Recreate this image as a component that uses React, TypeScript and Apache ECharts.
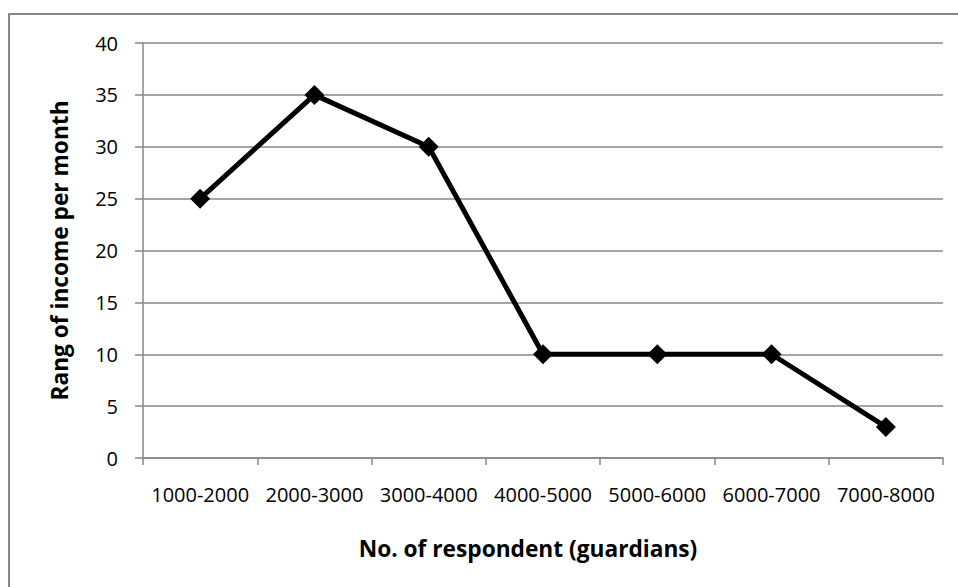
import React, { useEffect, useRef } from "react";
import * as echarts from "echarts";

const categories = ["1000-2000", "2000-3000", "3000-4000", "4000-5000", "5000-6000", "6000-7000", "7000-8000"];
const values = [25, 35, 30, 10, 10, 10, 3];
const xTitle = "No. of respondent (guardians)";
const yTitle = "Rang of income per month";

const FONT = "'Open Sans', sans-serif";
const GRAY = "#878787";

export default function App() {
  const ref = useRef<HTMLDivElement>(null);
  useEffect(() => {
    if (!ref.current) return;
    const chart = echarts.init(ref.current, null, { renderer: "svg" });
    chart.setOption({
      animation: false,
      backgroundColor: "#ffffff",
      graphic: [
        {
          type: "rect",
          shape: { x: 9, y: 14, width: 980, height: 620 },
          style: { fill: "none", stroke: GRAY, lineWidth: 2 },
          silent: true,
        },
      ],
      grid: { left: 143, right: 15, top: 43, bottom: 129 },
      xAxis: {
        type: "category",
        data: categories,
        boundaryGap: true,
        axisLine: { show: true, lineStyle: { color: GRAY, width: 1.5 } },
        axisTick: { show: true, length: 7, alignWithLabel: false, lineStyle: { color: GRAY, width: 1.5 } },
        axisLabel: { color: "#000", fontFamily: FONT, fontSize: 20, margin: 26, interval: 0 },
        splitLine: { show: false },
        name: xTitle,
        nameLocation: "middle",
        nameGap: 79,
        nameTextStyle: { color: "#000", fontFamily: FONT, fontSize: 22.7, fontWeight: "bold", padding: [0, 30, 0, 0] },
      },
      yAxis: {
        type: "value",
        min: 0,
        max: 40,
        interval: 5,
        axisLine: { show: true, lineStyle: { color: GRAY, width: 1.5 } },
        axisTick: { show: true, length: 8, lineStyle: { color: GRAY, width: 1.5 } },
        axisLabel: { color: "#000", fontFamily: FONT, fontSize: 20, margin: 25 },
        splitLine: { show: true, lineStyle: { color: GRAY, width: 1.5 } },
        name: yTitle,
        nameLocation: "middle",
        nameGap: 72,
        nameTextStyle: { color: "#000", fontFamily: FONT, fontSize: 22.7, fontWeight: "bold" },
      },
      series: [
        {
          type: "line",
          data: values,
          symbol: "diamond",
          symbolSize: 20,
          lineStyle: { color: "#000", width: 5 },
          itemStyle: { color: "#000" },
        },
      ],
    });
    return () => chart.dispose();
  }, []);
  return (
    <div
      ref={ref}
      style={{ position: "fixed", left: 0, top: 0, width: 958, height: 587 }}
    />
  );
}
